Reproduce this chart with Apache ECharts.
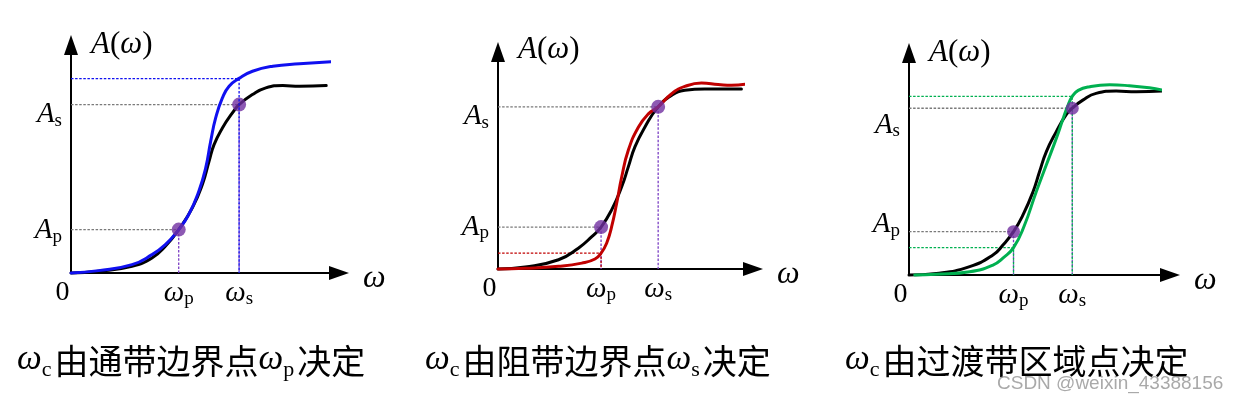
<!DOCTYPE html>
<html><head><meta charset="utf-8">
<script src="https://cdn.jsdelivr.net/npm/echarts@6/dist/echarts.min.js"></script>
<style>html,body{margin:0;padding:0;background:#fff}#c{width:1244px;height:401px}</style>
</head><body><div id="c"></div>
<script>
// ---------- data (normalised units: 0 = origin, 100 = arrow tip) ----------
const blackCurve1 = [[0,0],[9.9,0.7],[21.9,2.8],[29.1,6.3],[33.9,11.2],[38.7,18.2],[43.6,27.3],[47.2,37.1],[49.6,46.8],[51.4,53.8],[54.4,60.8],[58.0,67.1],[60.4,70.6],[65.2,74.8],[70.0,77.6],[76.1,78.6],[82.1,78.3],[91.7,78.6]];
const blueCurve1  = [[0,0],[9.9,1.0],[21.9,3.5],[29.1,7.7],[33.9,11.9],[38.7,18.2],[42.3,24.5],[45.9,34.2],[48.4,44.1],[50.2,55.3],[52.0,65.1],[54.4,73.4],[56.8,78.3],[60.4,81.6],[65.2,84.6],[72.5,86.7],[82.1,87.7],[96.5,88.8]];
const blackCurve2 = [[0,0],[10.3,0.9],[22.9,4.1],[30.4,9.2],[35.5,14.3],[39.0,18.5],[43.0,26.1],[46.8,36.3],[49.3,45.1],[51.8,53.9],[55.6,62.7],[60.6,71.6],[65.7,76.7],[70.7,78.9],[78.2,79.5],[92.1,79.5]];
const redCurve2   = [[0,0],[10.3,0.3],[22.9,1.2],[31.7,2.6],[36.7,4.4],[39.0,7.0],[41.1,11.4],[43.0,18.7],[44.9,29.0],[46.8,40.6],[49.3,52.4],[53.1,62.6],[56.9,68.5],[60.6,71.6],[65.7,77.4],[70.7,80.6],[77.0,82.1],[83.3,81.5],[88.3,81.1],[94.6,81.8]];
const blackCurve3 = [[0,0],[10.1,0.7],[22.4,3.6],[31.0,8.6],[34.7,12.9],[38.6,18.7],[42.1,25.9],[45.8,35.9],[48.2,44.5],[50.7,53.1],[54.4,61.8],[58.0,69.0],[60.3,71.9],[64.2,75.4],[69.1,78.3],[76.5,79.3],[83.9,79.0],[93.7,79.3]];
const greenCurve3 = [[2.1,0],[10.1,0.3],[22.4,1.4],[31.0,4.3],[35.0,7.6],[38.6,11.8],[42.5,21.0],[47.0,35.9],[50.7,47.4],[54.4,58.9],[56.8,67.0],[58.5,72.5],[60.3,77.0],[62.5,79.6],[66.7,81.2],[74.1,82.0],[81.4,81.6],[88.8,80.7],[93.7,79.7]];

const omegaP = [38.7, 39.0, 38.6];   // passband edge ωp per panel
const omegaS = [60.4, 60.6, 60.3];   // stopband edge ωs per panel
const ampP   = [18.2, 18.5, 18.7];   // Ap per panel
const ampS   = [70.6, 71.6, 71.9];   // As per panel
const blueLevel1  = 81.5;            // blue curve value at ωs
const redLevel2   = 7.0;             // red curve value at ωp
const greenLevels3 = [77.0, 11.8];   // green curve value at ωs, ωp

const xTickLabels = ['0', 'ω|p', 'ω|s'];
const yTickLabels = ['A|p', 'A|s'];
const captions = [
  ['ω','c','由通带边界点','ω','p','决定'],
  ['ω','c','由阻带边界点','ω','s','决定'],
  ['ω','c','由过渡带区域点决定']
];
const watermark = 'CSDN @weixin_43388156';

// ---------- layout & style ----------
const SERIF = "'Liberation Serif','DejaVu Serif',serif";
const CJK = "'Noto Sans CJK SC','Noto Sans CJK JP',sans-serif";
const X_MAX = 92.7, Y_MAX = 91.4;
const grids = [
  {left:71,  top:55, width:258, height:218},
  {left:498, top:62, width:245, height:207},
  {left:909, top:63, width:251, height:212}
];
const nameGapY = [10, 12, 10];
const yLabelShift = [[1,10],[0,10],[-7,17]]; // [Ap, As] px downwards
const capLeft = [17, 425, 845];
const accent = ['#1010f0', '#c00000', '#00b050'];
const DOT = '#7030a0', VLINE = '#7b3fc4', GRAY = '#7a7a7a';

function shiftPad(d){ return d >= 0 ? [2*d,0,0,0] : [0,0,-2*d,0]; }

const xAxis = [], yAxis = [], series = [];
for (let i = 0; i < 3; i++) {
  xAxis.push({
    gridIndex:i, type:'value', min:0, max:X_MAX,
    axisLine:{show:true, onZero:false, lineStyle:{color:'#000', width:2}, symbol:['none','triangle'], symbolSize:[14,20], symbolOffset:[0,10]},
    axisTick:{show:false}, splitLine:{show:false},
    axisLabel:{
      show:true, customValues:[0, omegaP[i], omegaS[i]], margin:5,
      formatter:function(v){
        let idx = Math.abs(v) < 1e-6 ? 0 : (Math.abs(v - omegaP[i]) < 1e-6 ? 1 : 2);
        const t = xTickLabels[idx].split('|');
        return idx === 0 ? '{z|' + t[0] + '}' : '{w|' + t[0] + '}{s|' + t[1] + '}';
      },
      rich:{
        z:{fontFamily:SERIF, fontSize:28, color:'#000', padding:[0,17,0,0], lineHeight:30},
        w:{fontFamily:SERIF, fontStyle:'italic', fontSize:29, color:'#000', lineHeight:30},
        s:{fontFamily:SERIF, fontSize:19, color:'#000', padding:[13,0,0,0], lineHeight:30}
      }
    },
    name:'{w|ω}', nameLocation:'end', nameGap:34,
    nameTextStyle:{align:'left', verticalAlign:'middle', padding:[12,0,0,0],
      rich:{w:{fontFamily:SERIF, fontStyle:'italic', fontSize:32, color:'#000'}}}
  });
  const sh = yLabelShift[i];
  yAxis.push({
    gridIndex:i, type:'value', min:0, max:Y_MAX,
    axisLine:{show:true, onZero:false, lineStyle:{color:'#000', width:2}, symbol:['none','triangle'], symbolSize:[14,20], symbolOffset:[0,10]},
    axisTick:{show:false}, splitLine:{show:false},
    axisLabel:{
      show:true, customValues:[ampP[i], ampS[i]], margin:9,
      formatter:function(v){
        const idx = Math.abs(v - ampP[i]) < 1e-6 ? 0 : 1;
        const t = yTickLabels[idx].split('|');
        return '{a' + idx + '|' + t[0] + '}{s' + idx + '|' + t[1] + '}';
      },
      rich:{
        a0:{fontFamily:SERIF, fontStyle:'italic', fontSize:29, color:'#000', padding:shiftPad(sh[0]), lineHeight:30},
        s0:{fontFamily:SERIF, fontSize:19, color:'#000', padding:shiftPad(sh[0]).map((p,k)=>k===0?p+12:p), lineHeight:30},
        a1:{fontFamily:SERIF, fontStyle:'italic', fontSize:29, color:'#000', padding:shiftPad(sh[1]), lineHeight:30},
        s1:{fontFamily:SERIF, fontSize:19, color:'#000', padding:shiftPad(sh[1]).map((p,k)=>k===0?p+12:p), lineHeight:30}
      }
    },
    name:'{i|A}{r|(}{i|ω}{r|)}', nameLocation:'end', nameGap:nameGapY[i],
    nameTextStyle:{align:'left', verticalAlign:'middle', padding:[0,0,0,20],
      rich:{i:{fontFamily:SERIF, fontStyle:'italic', fontSize:31, color:'#000'},
            r:{fontFamily:SERIF, fontSize:31, color:'#000'}}}
  });
}

function guide(i, pts, color, z) {
  return {type:'line', xAxisIndex:i, yAxisIndex:i, data:pts, symbol:'none', silent:true, clip:false, z:z || 1,
    lineStyle:{color:color, width:1.3, type:[2.5,1.6]}};
}
function curve(i, pts, color) {
  return {type:'line', xAxisIndex:i, yAxisIndex:i, data:pts, symbol:'none', silent:true, clip:false, z:3,
    smooth:0.5, lineStyle:{color:color, width:3, cap:'round', join:'round'}};
}

const colored = [blueCurve1, redCurve2, greenCurve3];
const blacks = [blackCurve1, blackCurve2, blackCurve3];
for (let i = 0; i < 3; i++) {
  series.push(guide(i, [[0,ampP[i]],[omegaP[i],ampP[i]]], GRAY));
  series.push(guide(i, [[0,ampS[i]],[omegaS[i],ampS[i]]], GRAY));
  series.push(guide(i, [[omegaP[i],ampP[i]],[omegaP[i],0]], VLINE));
  series.push(guide(i, [[omegaS[i],ampS[i]],[omegaS[i],0]], VLINE));
}
// coloured guides
series.push(guide(0, [[0,blueLevel1],[omegaS[0],blueLevel1],[omegaS[0],0]], accent[0], 7));
series.push(guide(1, [[0,redLevel2],[omegaP[1],redLevel2],[omegaP[1],0]], accent[1]));
series.push(guide(2, [[0,greenLevels3[0]],[omegaS[2],greenLevels3[0]],[omegaS[2],0]], accent[2]));
series.push(guide(2, [[0,greenLevels3[1]],[omegaP[2],greenLevels3[1]],[omegaP[2],0]], accent[2]));
for (let i = 0; i < 3; i++) {
  series.push(curve(i, blacks[i], '#000'));
  const c = curve(i, colored[i], accent[i]); c.z = 4; series.push(c);
  series.push({type:'scatter', xAxisIndex:i, yAxisIndex:i, silent:true, z:6,
    data:[[omegaP[i],ampP[i]],[omegaS[i],ampS[i]]], symbolSize: i===2?13:14, itemStyle:{color:DOT}});
}

const titles = captions.map((parts, i) => {
  const styles = ['w','sub','cn','w','sub','cn'];
  return {
    left:capLeft[i], top:339, padding:0, z:1,
    text: parts.map((p,k)=>'{' + styles[k] + '|' + p + '}').join(''),
    textStyle:{fontWeight:'normal', rich:{
      w:{fontFamily:SERIF, fontStyle:'italic', fontWeight:'normal', fontSize:35, color:'#000', lineHeight:44, padding:[0,0,3,0]},
      sub:{fontFamily:SERIF, fontWeight:'normal', fontSize:22, color:'#000', padding:[18,3,0,0], lineHeight:44},
      cn:{fontFamily:CJK, fontWeight:'normal', fontSize:34, color:'#000', lineHeight:44}
    }}
  };
});
titles.push({left:997, top:374, padding:0, z:10, text:watermark,
  textStyle:{fontFamily:"'Liberation Sans',Arial,sans-serif", fontSize:19, fontWeight:'normal', color:'rgba(140,140,140,0.75)'}});

const chart = echarts.init(document.getElementById('c'), null, {renderer:'canvas'});
chart.setOption({
  animation:false, backgroundColor:'#fff',
  title:titles,
  grid:grids.map(g => Object.assign({outerBoundsMode:'none', containLabel:false}, g)),
  xAxis:xAxis, yAxis:yAxis, series:series
});
</script></body></html>
